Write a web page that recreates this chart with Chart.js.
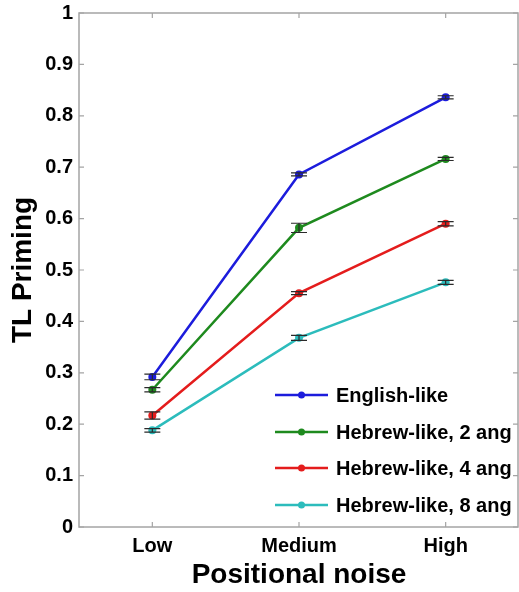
<!DOCTYPE html>
<html>
<head>
<meta charset="utf-8">
<script src="https://cdn.jsdelivr.net/npm/chart.js@4.4.1/dist/chart.umd.min.js"></script>
<style>
  html, body { margin: 0; padding: 0; background: #fff; overflow: hidden; }
  #wrap { width: 519px; height: 592px; position: relative; }
  canvas { display: block; }
</style>
</head>
<body>
<div id="wrap"><canvas id="chart"></canvas></div>
<script>
const noiseLevels = ["Low", "Medium", "High"];
const seriesNames = ["English-like", "Hebrew-like, 2 ang", "Hebrew-like, 4 ang", "Hebrew-like, 8 ang"];
const seriesColors = ["#1c1cdc", "#1e8a1e", "#e41c1c", "#2cbcbc"];

// mean TL priming per noise level
const englishLike = [0.292, 0.686, 0.836];
const hebrew2 = [0.267, 0.582, 0.716];
const hebrew4 = [0.217, 0.455, 0.590];
const hebrew8 = [0.188, 0.368, 0.476];

// half-width of error bars
const englishErr = [0.0055, 0.003, 0.003];
const hebrew2Err = [0.004, 0.009, 0.003];
const hebrew4Err = [0.007, 0.003, 0.004];
const hebrew8Err = [0.0035, 0.005, 0.004];

const yTicks = [0, 0.1, 0.2, 0.3, 0.4, 0.5, 0.6, 0.7, 0.8, 0.9, 1];

const FONT = "'Liberation Sans', Arial, Helvetica, sans-serif";
const AXIS_GREY = "#a4a4a4";

const allValues = [englishLike, hebrew2, hebrew4, hebrew8];
const allErrors = [englishErr, hebrew2Err, hebrew4Err, hebrew8Err];

const datasets = allValues.map((values, i) => ({
  label: seriesNames[i],
  data: values,
  errors: allErrors[i],
  borderColor: seriesColors[i],
  backgroundColor: seriesColors[i],
  borderWidth: 2.5,
  pointRadius: 4,
  pointBorderWidth: 0,
  pointHoverRadius: 4,
  tension: 0,
  fill: false
}));

// box around the axes with inward ticks, matlab style
const framePlugin = {
  id: "frame",
  beforeDatasetsDraw(chart) {
    const { ctx, chartArea: a, scales } = chart;
    ctx.save();
    ctx.strokeStyle = AXIS_GREY;
    ctx.lineWidth = 1.5;
    ctx.strokeRect(a.left, a.top, a.right - a.left - 1, a.bottom - a.top);
    ctx.lineWidth = 1.2;
    ctx.beginPath();
    yTicks.forEach((v) => {
      const y = scales.y.getPixelForValue(v);
      ctx.moveTo(a.left, y); ctx.lineTo(a.left + 5, y);
      ctx.moveTo(a.right - 1, y); ctx.lineTo(a.right - 6, y);
    });
    noiseLevels.forEach((_, i) => {
      const x = scales.x.getPixelForValue(i);
      ctx.moveTo(x, a.bottom); ctx.lineTo(x, a.bottom - 5);
      ctx.moveTo(x, a.top); ctx.lineTo(x, a.top + 5);
    });
    ctx.stroke();
    ctx.restore();
  }
};

const errorBarPlugin = {
  id: "errorBars",
  afterDatasetsDraw(chart) {
    const { ctx, scales } = chart;
    ctx.save();
    ctx.strokeStyle = "#2a2a2a";
    ctx.lineWidth = 1.2;
    chart.data.datasets.forEach((ds) => {
      ds.data.forEach((v, i) => {
        const x = scales.x.getPixelForValue(i);
        const hi = scales.y.getPixelForValue(v + ds.errors[i]);
        const lo = scales.y.getPixelForValue(v - ds.errors[i]);
        ctx.beginPath();
        ctx.moveTo(x, hi); ctx.lineTo(x, lo);
        ctx.moveTo(x - 8, hi); ctx.lineTo(x + 8, hi);
        ctx.moveTo(x - 8, lo); ctx.lineTo(x + 8, lo);
        ctx.stroke();
      });
    });
    ctx.restore();
  }
};

// legend inside the plot, bottom right, line with marker in the middle
const legendPlugin = {
  id: "insideLegend",
  afterDraw(chart) {
    const { ctx } = chart;
    const rowY = [395, 432, 468, 505];
    ctx.save();
    ctx.font = "bold 20px " + FONT;
    ctx.textBaseline = "middle";
    ctx.textAlign = "left";
    chart.data.datasets.forEach((ds, i) => {
      const y = rowY[i];
      ctx.strokeStyle = ds.borderColor;
      ctx.lineWidth = 2.5;
      ctx.beginPath();
      ctx.moveTo(275, y); ctx.lineTo(328, y);
      ctx.stroke();
      ctx.fillStyle = ds.borderColor;
      ctx.beginPath();
      ctx.arc(301.5, y, 3.5, 0, Math.PI * 2);
      ctx.fill();
      ctx.fillStyle = "#000";
      ctx.fillText(ds.label, 336, y + 1);
    });
    ctx.restore();
  }
};

new Chart(document.getElementById("chart"), {
  type: "line",
  data: { labels: noiseLevels, datasets },
  options: {
    responsive: true,
    maintainAspectRatio: false,
    animation: false,
    layout: { autoPadding: false, padding: { top: 13, right: 0, left: 0, bottom: 0 } },
    plugins: {
      legend: { display: false },
      tooltip: { enabled: false }
    },
    scales: {
      x: {
        type: "category",
        offset: true,
        grid: { display: false, drawTicks: false },
        border: { display: false },
        ticks: { color: "#000", font: { family: FONT, size: 20, weight: "bold" }, padding: 7 },
        title: {
          display: true,
          text: "Positional noise",
          color: "#000",
          font: { family: FONT, size: 28, weight: "bold" },
          padding: { top: 0, bottom: 0 }
        },
        afterFit(scale) {
          scale.height = 65;
          scale.paddingLeft = 0;
          scale.paddingRight = 0;
        }
      },
      y: {
        min: 0,
        max: 1,
        afterBuildTicks(scale) { scale.ticks = yTicks.map((v) => ({ value: v })); },
        grid: { display: false, drawTicks: false },
        border: { display: false },
        ticks: {
          color: "#000",
          font: { family: FONT, size: 20, weight: "bold" },
          padding: 6,
          callback: (v) => String(Math.round(v * 10) / 10)
        },
        title: {
          display: true,
          text: "TL Priming",
          color: "#000",
          font: { family: FONT, size: 28, weight: "bold" },
          padding: { top: 6, bottom: 0 }
        },
        afterFit(scale) {
          scale.width = 79;
          scale.paddingTop = 0;
          scale.paddingBottom = 0;
        }
      }
    }
  },
  plugins: [framePlugin, errorBarPlugin, legendPlugin]
});
</script>
</body>
</html>
